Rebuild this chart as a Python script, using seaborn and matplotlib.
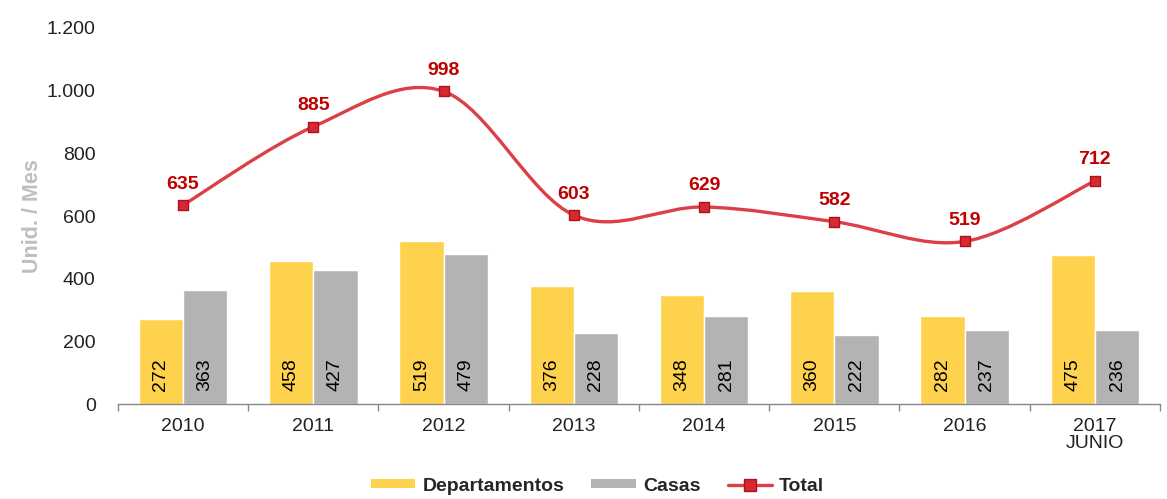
import numpy as np
import pandas as pd
import matplotlib
matplotlib.use("Agg")
import matplotlib.pyplot as plt
from matplotlib.path import Path
from matplotlib.patches import PathPatch, Patch
from matplotlib.lines import Line2D
import seaborn as sns

# Data
years = ["2010", "2011", "2012", "2013", "2014", "2015", "2016", "2017\nJUNIO"]
departamentos = [272, 458, 519, 376, 348, 360, 282, 475]
casas = [363, 427, 479, 228, 281, 222, 237, 236]
total = [635, 885, 998, 603, 629, 582, 519, 712]

sns.set_theme(style="white")
plt.rcParams["font.family"] = ["Liberation Sans", "DejaVu Sans"]

YELLOW = "#FFD24D"
GRAY = "#B3B3B3"
RED_TXT = "#C00000"
RED_LINE = "#DA4045"
FS = 14

df = pd.DataFrame({
    "Año": years * 2,
    "Unidades": departamentos + casas,
    "Tipo": ["Departamentos"] * len(years) + ["Casas"] * len(years),
})

fig = plt.figure(figsize=(11.67, 4.99), dpi=100)
ax = fig.add_axes([0.101, 0.19, 0.893, 0.754])

sns.barplot(data=df, x="Año", y="Unidades", hue="Tipo", order=years,
            hue_order=["Departamentos", "Casas"],
            palette=[YELLOW, GRAY], width=0.68, gap=0, saturation=1,
            legend=False, ax=ax, errorbar=None)

# Value labels inside the bars, rotated
for cont in ax.containers:
    for bar in cont:
        h = bar.get_height()
        ax.text(bar.get_x() + bar.get_width() / 2, 94, f"{int(h)}",
                rotation=90, ha="center", va="center", fontsize=FS,
                color="black")

# Smoothed total line (cardinal spline drawn as cubic Bezier segments)
xs = np.arange(len(years), dtype=float)
ys = np.array(total, dtype=float)
pts = np.column_stack([xs, ys])
verts = [tuple(pts[0])]
codes = [Path.MOVETO]
n = len(pts)
for i in range(n - 1):
    p0 = pts[i - 1] if i > 0 else pts[i]
    p1 = pts[i]
    p2 = pts[i + 1]
    p3 = pts[i + 2] if i + 2 < n else pts[i + 1]
    c1 = p1 + (p2 - p0) / 6.0
    c2 = p2 - (p3 - p1) / 6.0
    verts += [tuple(c1), tuple(c2), tuple(p2)]
    codes += [Path.CURVE4, Path.CURVE4, Path.CURVE4]
ax.add_patch(PathPatch(Path(verts, codes), fill=False, edgecolor=RED_LINE,
                       lw=2.4, zorder=4))
sns.scatterplot(x=xs, y=ys, marker="s", s=50, color="#D42A30",
                edgecolor="#B01020", linewidth=1, zorder=5, ax=ax, legend=False)
for x, y in zip(xs, ys):
    ax.annotate(f"{int(y)}", (x, y), xytext=(0, 9), textcoords="offset points",
                ha="center", va="bottom", fontsize=FS, fontweight="bold",
                color=RED_TXT, zorder=6)

# Axes styling
ax.set_ylim(0, 1200)
ax.set_xlim(-0.5, len(years) - 0.5)
ax.set_yticks(np.arange(0, 1201, 200))
ax.set_yticklabels(["0", "200", "400", "600", "800", "1.000", "1.200"])
ax.tick_params(axis="y", length=0, labelsize=FS, pad=16, colors="#222222")
ax.set_xticks(xs)
ax.set_xticklabels(years)
ax.set_xticks(np.arange(-0.5, len(years), 1.0), minor=True)
ax.tick_params(axis="x", which="major", length=0, labelsize=FS, pad=10,
               colors="#222222")
ax.tick_params(axis="x", which="minor", length=5, width=1, color="#888888",
               bottom=True)
ax.set_xlabel("")
ax.set_ylabel("Unid. / Mes", fontsize=15.5, fontweight="bold", color="#BFBFBF",
              labelpad=3)
for side in ["left", "right", "top"]:
    ax.spines[side].set_visible(False)
ax.spines["bottom"].set_color("#888888")
ax.spines["bottom"].set_linewidth(1)
for lbl in ax.get_xticklabels():
    lbl.set_linespacing(1.0)

handles = [
    Patch(facecolor=YELLOW, edgecolor="none", label="Departamentos"),
    Patch(facecolor=GRAY, edgecolor="none", label="Casas"),
    Line2D([0], [0], color=RED_LINE, lw=2.4, marker="s", markersize=8,
           markerfacecolor="#D42A30", markeredgecolor="#B01020",
           label="Total"),
]
fig.legend(handles=handles, loc="center", bbox_to_anchor=(0.512, 0.026),
           ncol=3, frameon=False, prop={"size": FS, "weight": "bold"},
           handlelength=2.3, handleheight=0.4, columnspacing=1.4,
           handletextpad=0.35)

fig.savefig("out.png", dpi=100)
